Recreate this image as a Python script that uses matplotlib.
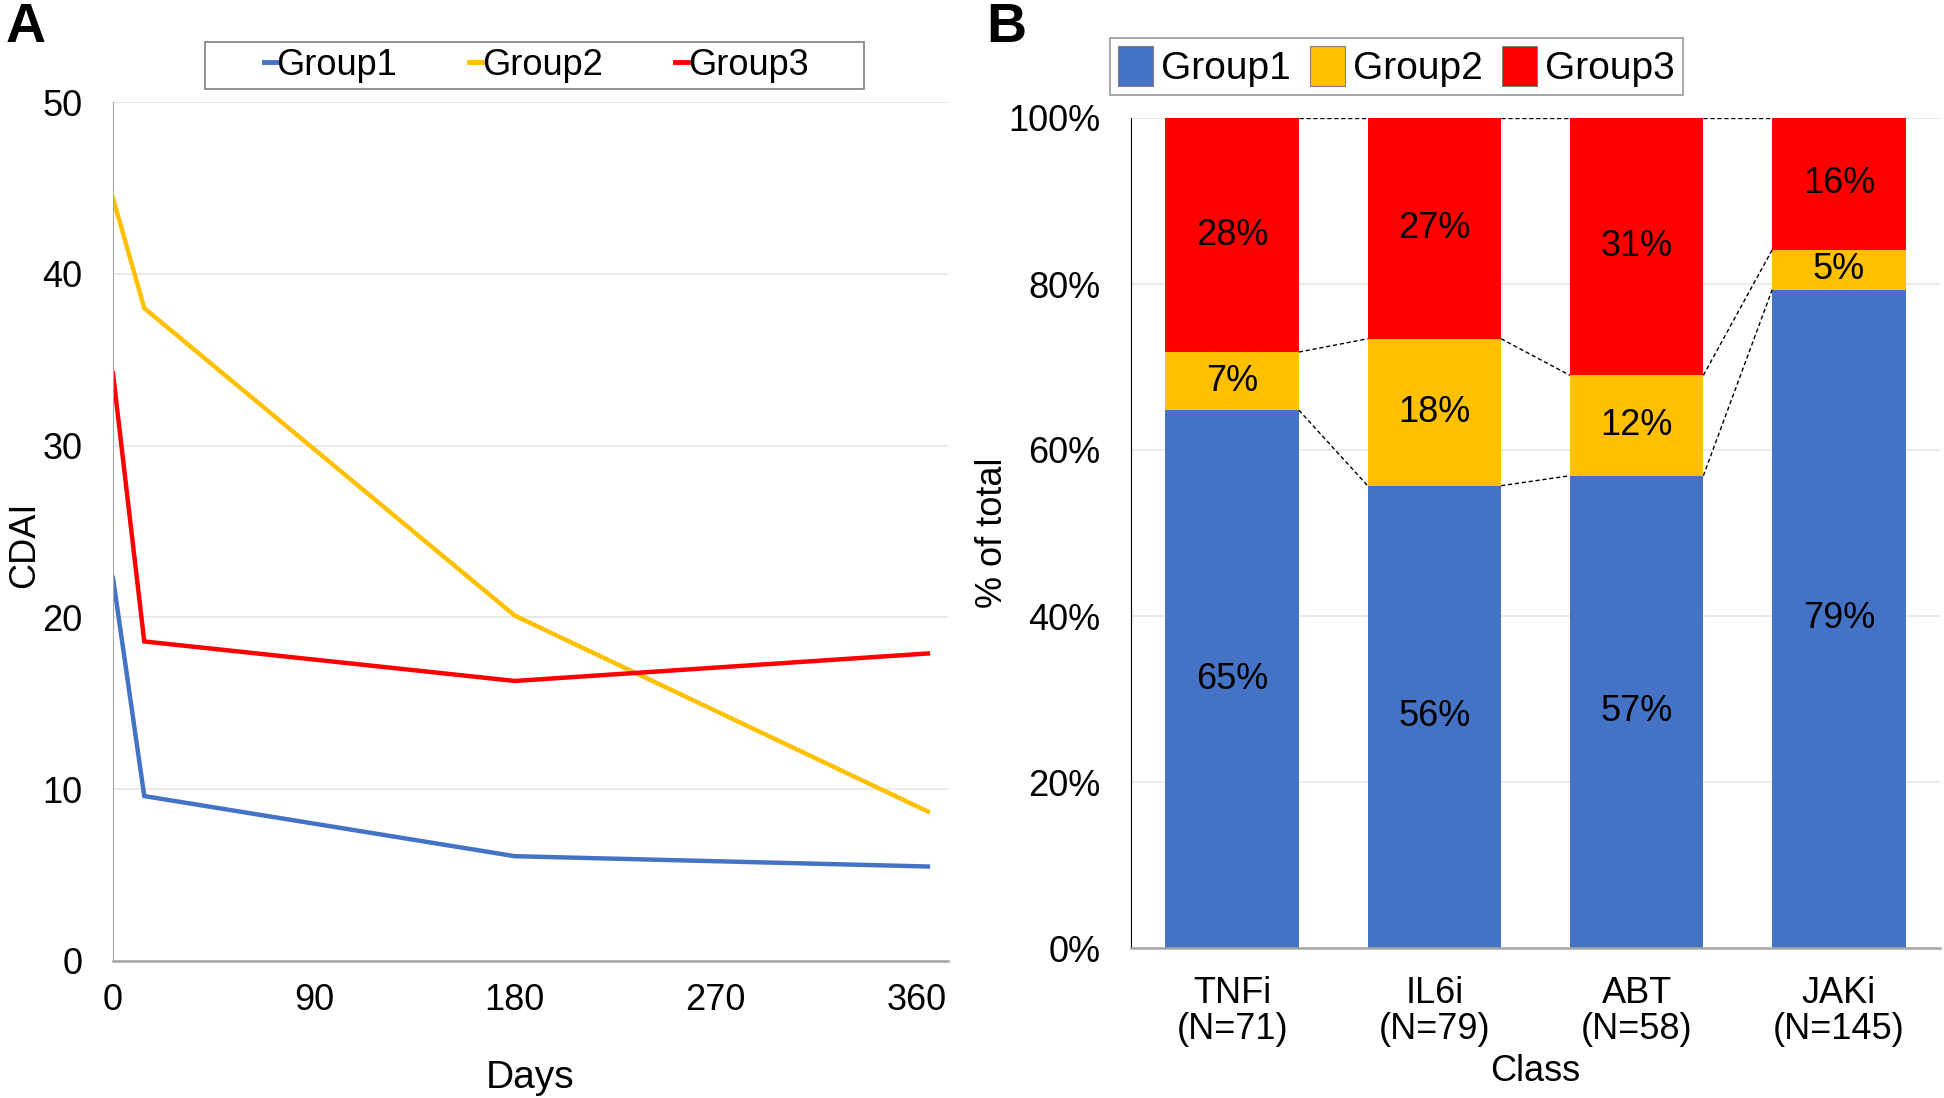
import matplotlib
matplotlib.use("Agg")
import matplotlib.pyplot as plt
from matplotlib.lines import Line2D
from matplotlib.patches import Patch, Rectangle

plt.rcParams['font.family'] = ['Liberation Sans', 'DejaVu Sans']

# Panel A data
days = [0, 14, 180, 365]
group1_cdai = [22.3, 9.6, 6.1, 5.5]
group2_cdai = [44.4, 38.0, 20.1, 8.7]
group3_cdai = [34.2, 18.6, 16.3, 17.9]
x_ticks = [0, 90, 180, 270, 360]
y_ticks_a = [0, 10, 20, 30, 40, 50]

# Panel B data
classes = ["TNFi\n(N=71)", "IL6i\n(N=79)", "ABT\n(N=58)", "JAKi\n(N=145)"]
g1_pct = [64.8, 55.7, 56.9, 79.3]
g2_pct = [7.0, 17.7, 12.1, 4.8]
g3_pct = [28.2, 26.6, 31.0, 15.9]
y_ticks_b = [0, 20, 40, 60, 80, 100]

group_names = ["Group1", "Group2", "Group3"]
colors = ["#4472C4", "#FFC000", "#FF0000"]

W, H = 1944, 1098
fig = plt.figure(figsize=(W / 100, H / 100), dpi=100)

def rect(l, r, t, b):
    return [l / W, 1 - b / H, (r - l) / W, (b - t) / H]

FS = 26

# ---------- Panel A ----------
axA = fig.add_axes(rect(113, 948, 102, 961))
for vals, c in zip([group1_cdai, group2_cdai, group3_cdai], colors):
    axA.plot(days, vals, color=c, lw=3.2, solid_joinstyle='miter')
axA.set_xlim(0, 374)
axA.set_ylim(0, 50)
axA.set_xticks(x_ticks)
axA.set_yticks(y_ticks_a)
axA.yaxis.grid(True, color="#e6e6e6", lw=1.2)
axA.set_axisbelow(True)
for s in ["top", "right"]:
    axA.spines[s].set_visible(False)
axA.spines["left"].set_color("#a6a6a6")
axA.spines["bottom"].set_color("#a6a6a6")
axA.spines["bottom"].set_linewidth(1.8)
axA.tick_params(axis="both", length=0, labelsize=FS)
axA.tick_params(axis="x", pad=16)
axA.tick_params(axis="y", pad=22)
axA.set_xlabel("Days", fontsize=28, labelpad=30)
fig.text(25 / W, 1 - 545 / H, "CDAI", fontsize=26, rotation=90, ha="center", va="center")

handlesA = [Line2D([0], [0], color=c, lw=3.5) for c in colors]
legA = fig.legend(handlesA, group_names, loc="center", bbox_to_anchor=(536 / W, 1 - 65.5 / H),
                  ncol=3, fontsize=FS, frameon=False, handlelength=0.35,
                  handletextpad=0.0, columnspacing=2.0, borderpad=0.15)
fig.patches.append(Rectangle((205 / W, 1 - 89 / H), (864 - 205) / W, (89 - 42) / H,
                             transform=fig.transFigure, facecolor="none",
                             edgecolor="#7f7f7f", lw=1.2))

fig.text(6 / W, 1 - 2 / H, "A", fontsize=40, fontweight="bold", va="top", ha="left")

# ---------- Panel B ----------
axB = fig.add_axes(rect(1131, 1940, 118, 948))
x = list(range(len(classes)))
bw = 0.66
bottoms2 = [a for a in g1_pct]
bottoms3 = [a + b for a, b in zip(g1_pct, g2_pct)]
axB.bar(x, g1_pct, width=bw, color=colors[0], zorder=2)
axB.bar(x, g2_pct, width=bw, bottom=bottoms2, color=colors[1], zorder=2)
axB.bar(x, g3_pct, width=bw, bottom=bottoms3, color=colors[2], zorder=2)

# series lines
levels = [bottoms2, bottoms3, [a + b + c for a, b, c in zip(g1_pct, g2_pct, g3_pct)]]
for lev in levels:
    for i in range(len(x) - 1):
        axB.plot([x[i] + bw / 2, x[i + 1] - bw / 2], [lev[i], lev[i + 1]],
                 color="black", lw=1.0, ls=(0, (3, 2)), zorder=3)

# labels
for i in x:
    axB.text(i, g1_pct[i] / 2, f"{round(g1_pct[i])}%", ha="center", va="center", fontsize=FS, zorder=4)
    axB.text(i, bottoms2[i] + g2_pct[i] / 2, f"{round(g2_pct[i])}%", ha="center", va="center", fontsize=FS, zorder=4)
    axB.text(i, bottoms3[i] + g3_pct[i] / 2, f"{round(g3_pct[i])}%", ha="center", va="center", fontsize=FS, zorder=4)

axB.set_xlim(-0.5, 3.5)
axB.set_ylim(0, 100)
axB.set_xticks(x)
axB.set_xticklabels(classes, linespacing=1.05)
axB.set_yticks(y_ticks_b)
axB.set_yticklabels([f"{v}%" for v in y_ticks_b])
axB.yaxis.grid(True, color="#e6e6e6", lw=1.2)
axB.set_axisbelow(True)
for s in ["top", "right"]:
    axB.spines[s].set_visible(False)
axB.spines["left"].set_color("black")
axB.spines["bottom"].set_color("#a6a6a6")
axB.spines["bottom"].set_linewidth(1.8)
axB.tick_params(axis="both", length=0, labelsize=FS)
axB.tick_params(axis="x", pad=20)
axB.tick_params(axis="y", pad=22)
axB.set_xlabel("Class", fontsize=FS, labelpad=5)
fig.text(992 / W, 1 - 533 / H, "% of total", fontsize=26, rotation=90, ha="center", va="center")

handlesB = [Patch(facecolor=c, edgecolor="#7f7f7f", lw=0.8) for c in colors]
legB = fig.legend(handlesB, group_names, loc="center", bbox_to_anchor=(1396.5 / W, 1 - 66.5 / H),
                  ncol=3, fontsize=28, frameon=True, fancybox=False, handlelength=0.9,
                  handleheight=1.2, handletextpad=0.2, columnspacing=0.5, borderpad=0.2)
legB.get_frame().set_edgecolor("#7f7f7f")
legB.get_frame().set_linewidth(1.2)

fig.text(986 / W, 1 - 2 / H, "B", fontsize=40, fontweight="bold", va="top", ha="left")

fig.savefig("out.png", dpi=100)
